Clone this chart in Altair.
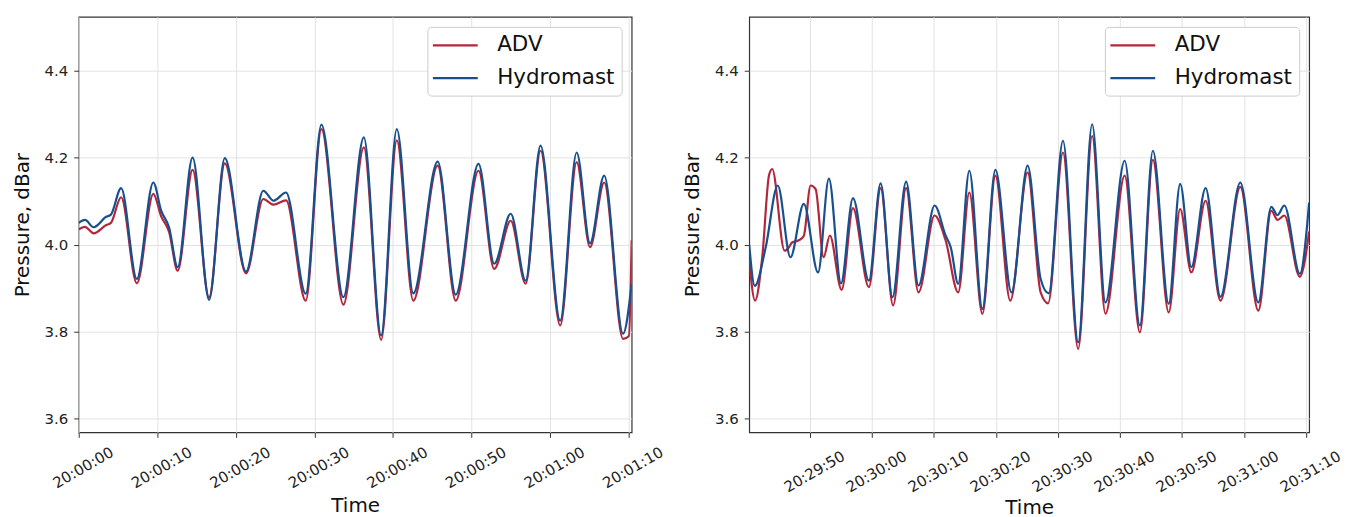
import altair as alt
import pandas as pd

# ---------------- data (seconds after panel start, pressure in dBar) ----------------
LEFT_START = "2021-06-01 20:00:00"
RIGHT_START = "2021-06-01 20:29:40"

left_adv_t = [0.0, 0.8, 1.9, 3.5, 4.1, 5.4, 7.4, 9.5, 10.5, 11.5, 12.6, 14.5, 16.6, 18.6,
              21.3, 23.5, 24.8, 26.4, 28.9, 30.9, 33.7, 36.3, 38.5, 40.5, 42.6, 45.7, 48.0,
              50.9, 52.9, 55.0, 56.9, 58.8, 61.3, 63.4, 65.1, 66.9, 69.3, 70.05, 70.4]
left_adv_p = [4.035, 4.041, 4.026, 4.045, 4.050, 4.109, 3.911, 4.117, 4.065, 4.030, 3.940,
              4.172, 3.879, 4.187, 3.934, 4.105, 4.092, 4.102, 3.871, 4.266, 3.862, 4.224,
              3.781, 4.240, 3.871, 4.182, 3.871, 4.170, 3.944, 4.055, 3.910, 4.216, 3.814,
              4.190, 3.994, 4.143, 3.783, 3.790, 4.010]

left_hyd_t = [0.0, 0.8, 1.9, 3.5, 4.1, 5.4, 7.4, 9.5, 10.5, 11.5, 12.6, 14.5, 16.6, 18.6,
              21.3, 23.5, 24.8, 26.4, 28.9, 30.9, 33.7, 36.3, 38.5, 40.5, 42.6, 45.7, 48.0,
              50.9, 52.9, 55.0, 56.9, 58.8, 61.3, 63.4, 65.1, 66.9, 69.3, 70.4]
left_hyd_p = [4.050, 4.057, 4.040, 4.064, 4.069, 4.130, 3.921, 4.143, 4.078, 4.040, 3.948,
              4.200, 3.873, 4.199, 3.938, 4.124, 4.101, 4.120, 3.887, 4.276, 3.879, 4.247,
              3.791, 4.266, 3.888, 4.191, 3.885, 4.186, 3.956, 4.071, 3.917, 4.228, 3.825,
              4.212, 4.003, 4.159, 3.795, 3.910]

right_adv_t = [0.2, 1.14, 2.3, 3.4, 3.9, 5.9, 6.6, 7.1, 8.2, 9.0, 10.1, 10.9, 12.2, 13.2,
               15.1, 16.93, 19.5, 21.4, 23.4, 25.5, 27.5, 30.1, 31.87, 33.9, 35.7, 37.8,
               39.9, 42.3, 45.1, 47.2, 48.4, 50.8, 53.25, 55.5, 57.65, 60.75, 63.2, 65.3,
               67.85, 69.7, 71.5, 73.8, 76.2, 79.4, 82.3, 84.4, 85.4, 86.5, 89.0, 90.5]
right_adv_p = [3.965, 3.871, 3.971, 4.160, 4.174, 3.986, 3.994, 4.005, 4.010, 4.020, 4.136,
               4.128, 3.971, 4.021, 3.896, 4.084, 3.902, 4.130, 3.860, 4.130, 3.890, 4.067,
               4.010, 3.890, 4.120, 3.841, 4.159, 3.871, 4.166, 3.890, 3.865, 4.212, 3.760,
               4.250, 3.841, 4.159, 3.798, 4.195, 3.844, 4.082, 3.936, 4.101, 3.871, 4.133,
               3.848, 4.078, 4.057, 4.067, 3.926, 4.030]

right_hyd_t = [0.2, 1.1, 2.86, 4.8, 6.85, 9.0, 11.3, 13.05, 15.0, 16.93, 19.5, 21.4, 23.3,
               25.5, 27.5, 30.1, 31.87, 32.7, 33.9, 35.7, 37.8, 39.9, 42.5, 45.1, 47.2, 48.5,
               50.8, 53.25, 55.5, 57.65, 60.75, 63.2, 65.3, 67.85, 69.7, 71.5, 73.8, 76.2,
               79.4, 82.3, 84.4, 85.4, 86.5, 89.0, 90.5]
right_hyd_p = [4.000, 3.905, 3.994, 4.136, 3.971, 4.094, 3.936, 4.152, 3.911, 4.107, 3.917,
               4.141, 3.879, 4.145, 3.906, 4.090, 4.021, 3.994, 3.910, 4.170, 3.852, 4.172,
               3.890, 4.182, 3.921, 3.888, 4.239, 3.775, 4.277, 3.867, 4.193, 3.814, 4.216,
               3.864, 4.140, 3.948, 4.130, 3.880, 4.143, 3.867, 4.087, 4.068, 4.090, 3.933,
               4.097]

series_names = ["ADV", "Hydromast"]
series_colors = ["#b3263b", "#17508e"]
y_ticks = [3.6, 3.8, 4.0, 4.2, 4.4]
left_ticks = [(20, 0, 0), (20, 0, 10), (20, 0, 20), (20, 0, 30), (20, 0, 40), (20, 0, 50),
              (20, 1, 0), (20, 1, 10)]
right_ticks = [(20, 29, 50), (20, 30, 0), (20, 30, 10), (20, 30, 20), (20, 30, 30),
               (20, 30, 40), (20, 30, 50), (20, 31, 0), (20, 31, 10)]


def frame(start, adv_t, adv_p, hyd_t, hyd_p):
    base = pd.Timestamp(start)
    rows = []
    for name, ts, ps in ((series_names[0], adv_t, adv_p), (series_names[1], hyd_t, hyd_p)):
        for i, (t, p) in enumerate(zip(ts, ps)):
            stamp = base + pd.to_timedelta(t, unit="s")
            rows.append({"time": stamp.strftime("%Y-%m-%dT%H:%M:%S.%f")[:-3],
                         "pressure": p, "series": name, "order": i})
    return pd.DataFrame(rows)


def dt(h, m, s, ms=0):
    return alt.DateTime(year=2021, month=6, date=1, hours=h, minutes=m, seconds=s,
                        milliseconds=ms)


def panel(df, domain, ticks, width, label_pad, title_pad):
    return alt.Chart(df).mark_line(strokeWidth=2.2, interpolate="monotone", clip=True).encode(
        x=alt.X("time:T", title="Time",
                scale=alt.Scale(domain=domain, nice=False),
                axis=alt.Axis(format="%H:%M:%S",
                              values=[dt(*k) for k in ticks],
                              labelAngle=330, labelAlign="center", labelBaseline="middle",
                              labelPadding=label_pad, labelOffset=4, labelOverlap=False,
                              labelFlush=False, titlePadding=title_pad)),
        y=alt.Y("pressure:Q", title="Pressure, dBar",
                scale=alt.Scale(domain=[3.568, 4.524], nice=False, zero=False),
                axis=alt.Axis(values=y_ticks, format=".1f", labelPadding=6,
                              titlePadding=12)),
        color=alt.Color("series:N",
                        scale=alt.Scale(domain=series_names, range=series_colors),
                        legend=alt.Legend(title=None, orient="top-right", offset=10,
                                          fillColor="white", strokeColor="#cccccc",
                                          cornerRadius=4, padding=7,
                                          symbolType="M-1.3,0H3.2", symbolSize=400,
                                          symbolStrokeWidth=2.2, labelFontSize=21.5,
                                          labelFont="DejaVu Sans", labelColor="#111111",
                                          rowPadding=11, labelOffset=40)),
        order="order:Q",
    ).properties(width=width, height=417)


left = panel(frame(LEFT_START, left_adv_t, left_adv_p, left_hyd_t, left_hyd_p),
             [dt(20, 0, 0), dt(20, 1, 10, 400)], left_ticks, 555, 30, 5)
right = panel(frame(RIGHT_START, right_adv_t, right_adv_p, right_hyd_t, right_hyd_p),
              [dt(20, 29, 40, 200), dt(20, 31, 10, 500)], right_ticks, 562, 34, 3)

chart = alt.hconcat(left, right, spacing=15).resolve_legend(
    color="independent"
).properties(
    padding={"left": 11, "top": 15, "right": 5, "bottom": 5},
    background="white",
).configure_view(
    stroke="#333333", strokeWidth=1.2
).configure_axis(
    domain=False, grid=True, gridColor="#e2e2e2", gridWidth=1,
    tickColor="#333333", tickSize=5, tickWidth=1,
    labelFont="DejaVu Sans", labelFontSize=15, labelColor="#222222",
    titleFont="DejaVu Sans", titleFontSize=20, titleFontWeight="normal",
    titleColor="#111111"
)

chart.save("out.html", embed_options={"renderer": "svg", "actions": False})
